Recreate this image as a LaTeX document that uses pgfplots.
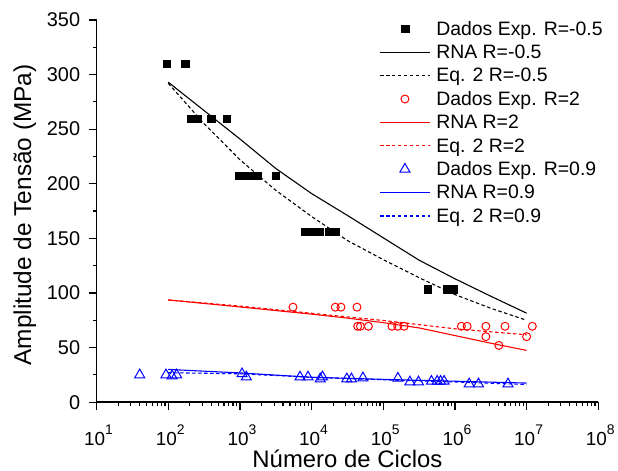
\documentclass[border=0pt]{standalone}
\usepackage{fontspec}
\setmainfont{Liberation Sans}
\usepackage{pgfplots}
\pgfplotsset{compat=1.18}
\newcommand{\ex}[1]{10\raisebox{12pt}{\fontsize{14}{14}\selectfont #1}}

\begin{document}
\begin{tikzpicture}
\begin{axis}[
    xmode=log,
    scale only axis,
    width=504pt, height=384pt,
    xmin=10, xmax=1e8, ymin=0, ymax=350,
    axis x line=bottom, axis y line=left,
    axis line style={line width=1.4pt, -},
    tick align=outside,
    major tick length=8pt, minor tick length=4pt,
    tick style={black, line width=1.2pt},
    xtick={1e1,1e2,1e3,1e4,1e5,1e6,1e7,1e8},
    xticklabels={\ex{1},\ex{2},\ex{3},\ex{4},\ex{5},\ex{6},\ex{7},\ex{8}},
    minor xtick={2e1,3e1,4e1,5e1,6e1,7e1,8e1,9e1,
                 2e2,3e2,4e2,5e2,6e2,7e2,8e2,9e2,
                 2e3,3e3,4e3,5e3,6e3,7e3,8e3,9e3,
                 2e4,3e4,4e4,5e4,6e4,7e4,8e4,9e4,
                 2e5,3e5,4e5,5e5,6e5,7e5,8e5,9e5,
                 2e6,3e6,4e6,5e6,6e6,7e6,8e6,9e6,
                 2e7,3e7,4e7,5e7,6e7,7e7,8e7,9e7},
    ytick={0,50,...,350},
    minor y tick num=1,
    /pgf/number format/assume math mode=true,
    xticklabel style={font=\fontsize{19}{22}\selectfont, anchor=base, yshift=-36pt, xshift=2pt},
    yticklabel style={font=\fontsize{20}{24}\selectfont, xshift=-5pt},
    xlabel={Número de Ciclos},
    ylabel={Amplitude de Tensão (MPa)},
    every axis x label/.style={at={(axis description cs:0.5,-0.147)}, anchor=center, font=\fontsize{24}{28}\selectfont},
    every axis y label/.style={at={(axis description cs:-0.143,0.49)}, rotate=90, anchor=center, font=\fontsize{24.5}{29}\selectfont},
    legend cell align=left,
    legend image code/.code={\draw[mark repeat=2,mark phase=2,#1] plot coordinates {(0pt,0pt) (25pt,0pt) (50pt,0pt)};},
    legend style={draw=none, fill=none, inner sep=0pt, column sep=3pt,
        at={(0.5635,1.0078)}, anchor=north west,
        font=\fontsize{19.5}{23}\selectfont,
        nodes={inner xsep=3pt, inner ysep=0pt, text height=18pt, text depth=5.5pt}},
]
% R = -0.5
\addplot[only marks, mark=square*, mark size=3.85pt, black] coordinates {
(95,310) (172,310) (205,259.5) (253,259.5) (400,259.5) (654,259.5)
(980,207.5) (1200,207.5) (1470,207.5) (1780,207.5) (3150,207.5)
(8100,156) (9800,156) (12900,156) (17400,156) (21700,156)
(415000,103.5) (776000,103.5) (955000,103.5)};
\addlegendentry{Dados Exp. R=-0.5}
\addplot[draw=black, line width=1.1pt] coordinates {
(100,293) (316,267) (1000,241) (3162,214) (10000,191) (31623,171)
(100000,150.5) (316228,130) (1e6,113) (3.162e6,97) (1e7,81.5)};
\addlegendentry{RNA R=-0.5}
\addplot[draw=black, line width=1.1pt, dash pattern=on 3.5pt off 2.5pt] coordinates {
(100,292) (316,255) (1000,222) (3162,194) (10000,170) (31623,148)
(100000,130.5) (316228,114) (1e6,98.5) (3.162e6,86) (1e7,75)};
\addlegendentry{Eq. 2 R=-0.5}
% R = 2
\addplot[only marks, mark=o, mark size=4pt, red, mark options={line width=1pt}] coordinates {
(5500,87) (21400,87) (25700,87) (43000,87)
(44000,69.5) (48000,69.5) (62000,69.5) (132000,69.5) (159000,69.5) (195000,69.5)
(1.23e6,69.5) (1.48e6,69.5) (2.7e6,69.5) (5.0e6,69.5) (1.2e7,69.5)
(2.7e6,60) (1.0e7,60) (4.1e6,52)};
\addlegendentry{Dados Exp. R=2}
\addplot[draw=red, line width=1.1pt] coordinates {
(100,93.6) (1000,87.2) (10000,80.6) (31623,77) (100000,72.8) (316228,68)
(1e6,61) (3.162e6,54) (1e7,47.4)};
\addlegendentry{RNA R=2}
\addplot[draw=red, line width=1.1pt, dash pattern=on 3.5pt off 2.5pt] coordinates {
(100,93.6) (1000,88) (10000,81.4) (100000,74.8) (1e6,67.2) (1e7,61.7)};
\addlegendentry{Eq. 2 R=2}
% R = 0.9
\addplot[only marks, mark=triangle, mark size=5.8pt, blue, mark options={line width=1pt}] coordinates {
(40,25) (93,25) (113,24) (131,25) (1070,26) (1230,23)
(6900,23) (8900,23) (13200,21.3) (14200,23.1) (31000,21.3) (36000,21.3)
(52000,22.2) (160000,21.9) (235000,18.5) (310000,18.5)
(470000,19.1) (565000,19.1) (630000,19.1) (705000,19.1)
(1.58e6,16.7) (2.13e6,16.7) (5.5e6,16.7)};
\addlegendentry{Dados Exp. R=0.9}
\addplot[draw=blue, line width=1.1pt] coordinates {
(100,30) (1000,26.8) (10000,22.8) (100000,20.9) (1e6,19.2) (1e7,17.5)};
\addlegendentry{RNA R=0.9}
\addplot[draw=blue, line width=1.1pt, dash pattern=on 3.5pt off 2.5pt] coordinates {
(100,27) (1000,26) (10000,22.8) (100000,20.5) (1e6,18.5) (1e7,16.2)};
\addlegendentry{Eq. 2 R=0.9}
\end{axis}
\path ([xshift=-97pt,yshift=-67pt]current axis.south west) rectangle ([xshift=17pt,yshift=20pt]current axis.north east);
\end{tikzpicture}
\end{document}
